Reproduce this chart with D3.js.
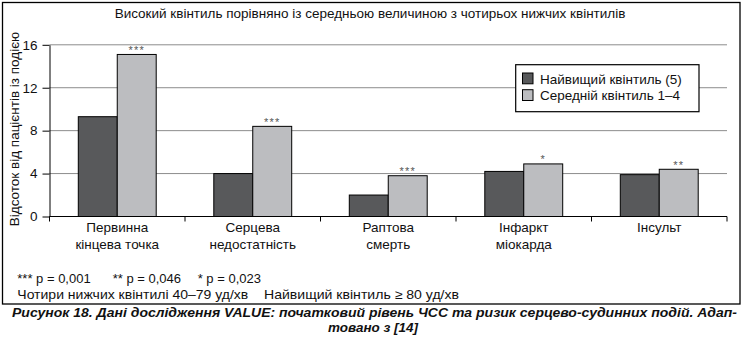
<!DOCTYPE html>
<html><head><meta charset="utf-8">
<script src="https://cdn.jsdelivr.net/npm/d3@7"></script>
<style>
html,body{margin:0;padding:0;background:#fff;}
svg{display:block;font-family:"Liberation Sans",Arial,Helvetica,sans-serif;}
</style></head>
<body>
<svg id="chart" width="746" height="338"></svg>
<script>
const categories = [["Первинна","кінцева точка"],["Серцева","недостатність"],["Раптова","смерть"],["Інфаркт","міокарда"],["Інсульт"]];
const seriesNames = ["Найвищий квінтиль (5)", "Середній квінтиль 1–4"];
const highQuintile = [9.3, 4.0, 2.0, 4.2, 3.9];
const meanQuintile = [15.1, 8.4, 3.8, 4.9, 4.4];
const significance = ["***", "***", "***", "*", "**"];
const yTicks = [0, 4, 8, 12, 16];
const titleText = "Високий квінтиль порівняно із середньою величиною з чотирьох нижчих квінтилів";
const yLabel = "Відсоток від пацієнтів із подією";
const pNotes = ["*** p = 0,001", "** p = 0,046", "* p = 0,023"];
const rangeNotes = ["Чотири нижчих квінтилі 40–79 уд/хв", "Найвищий квінтиль ≥ 80 уд/хв"];
const captionLines = ["Рисунок 18. Дані дослідження VALUE: початковий рівень ЧСС та ризик серцево-судинних подій. Адап-", "товано з [14]"];

const colors = ["#58595b", "#bcbdc0"];
const svg = d3.select("#chart");

// outer frame
svg.append("rect").attr("x",2.5).attr("y",2.5).attr("width",737.5).attr("height",301.5)
  .attr("fill","none").attr("stroke","#000").attr("stroke-width",1.3);

const L = 49.5, R = 727, T = 44.8, B = 216.5;
const x0 = d3.scaleBand().domain(d3.range(categories.length)).range([L, R]).paddingInner(0.425).paddingOuter(0.2125);
const x1 = d3.scaleBand().domain([0,1]).range([0, x0.bandwidth()]);
const y = d3.scaleLinear().domain([0,16]).range([B, T]);

// gridlines
svg.append("g").selectAll("line").data(yTicks.filter(d=>d>0)).join("line")
  .attr("x1", L).attr("x2", R).attr("y1", d=>y(d)).attr("y2", d=>y(d))
  .attr("stroke","#8c8c8c").attr("stroke-width",1);

// title
svg.append("text").attr("x",370).attr("y",18.3).attr("text-anchor","middle")
  .attr("font-size",13.5).attr("fill","#111").text(titleText);

// y axis
const yAxis = svg.append("g").attr("transform",`translate(${L},0)`)
  .call(d3.axisLeft(y).tickValues(yTicks).tickSize(7).tickPadding(5).tickSizeOuter(0));
yAxis.select(".domain").attr("stroke","#000");
yAxis.selectAll(".tick line").attr("stroke","#000");
yAxis.selectAll("text").attr("font-size",13.5).attr("font-family","Liberation Sans, Arial").attr("fill","#111");
svg.append("line").attr("x1",L).attr("x2",L).attr("y1",B).attr("y2",B+4).attr("stroke","#000");

// y label
svg.append("text").attr("transform",`translate(18.5,${129}) rotate(-90)`).attr("text-anchor","middle")
  .attr("font-size",13.5).attr("fill","#111").text(yLabel);

// bars
const groups = svg.append("g").selectAll("g").data(categories.map((c,i)=>i)).join("g")
  .attr("transform", i=>`translate(${x0(i)},0)`);
groups.selectAll("rect").data(i=>[highQuintile[i], meanQuintile[i]]).join("rect")
  .attr("x",(d,j)=>x1(j)).attr("width",x1.bandwidth())
  .attr("y",d=>y(d)).attr("height",d=>B-y(d))
  .attr("fill",(d,j)=>colors[j]).attr("stroke","#000").attr("stroke-width",1);
groups.append("text")
  .attr("x",x1(1)+x1.bandwidth()/2).attr("y",i=>y(meanQuintile[i])-0.5)
  .attr("text-anchor","middle").attr("font-size",11).attr("letter-spacing",1.2)
  .attr("fill","#555").text(i=>significance[i]);

// x axis
const xAxisLine = svg.append("g");
xAxisLine.append("line").attr("x1",L).attr("x2",R).attr("y1",B).attr("y2",B).attr("stroke","#000").attr("stroke-width",1);
const bounds = d3.range(categories.length+1).map(i => L + i*(R-L)/categories.length);
xAxisLine.selectAll("line.tk").data(bounds).join("line").attr("class","tk")
  .attr("x1",d=>d).attr("x2",d=>d).attr("y1",B).attr("y2",B+5).attr("stroke","#000");

// category labels
const labs = svg.append("g").selectAll("text").data(categories.map((c,i)=>i)).join("text")
  .attr("text-anchor","middle").attr("font-size",13.5).attr("fill","#111");
labs.selectAll("tspan").data(i=>categories[i].map(t=>({t, i}))).join("tspan")
  .attr("x",d=>x0(d.i)+x0.bandwidth()/2).attr("y",(d,k)=>232.3+k*16.5).text(d=>d.t);

// legend
const lg = svg.append("g");
lg.append("rect").attr("x",515.7).attr("y",64.7).attr("width",183.3).attr("height",47)
  .attr("fill","#fff").attr("stroke","#000").attr("stroke-width",1.2);
seriesNames.forEach((s,j)=>{
  lg.append("rect").attr("x",522.5).attr("y",73+j*16.7).attr("width",10.5).attr("height",10.8)
    .attr("fill",colors[j]).attr("stroke","#000").attr("stroke-width",1);
  lg.append("text").attr("x",540).attr("y",84.3+j*15.5).attr("font-size",13.5).attr("fill","#111").text(s);
});

// footnotes
const pX = [17.3, 112.7, 197.7];
svg.append("g").selectAll("text").data(pNotes).join("text")
  .attr("x",(d,i)=>pX[i]).attr("y",282.7).attr("font-size",13).attr("fill","#111").text(d=>d);
const rX = [17.3, 264];
const rW = [231, 195];
svg.append("g").selectAll("text").data(rangeNotes).join("text")
  .attr("x",(d,i)=>rX[i]).attr("y",298.7).attr("font-size",13).attr("fill","#111")
  .attr("textLength",(d,i)=>rW[i]).attr("lengthAdjust","spacingAndGlyphs").text(d=>d);

// caption
svg.append("text").attr("x",374.5).attr("y",317.3).attr("text-anchor","middle")
  .attr("font-size",12.4).attr("font-weight","bold").attr("font-style","italic").attr("fill","#111")
  .attr("textLength",725).attr("lengthAdjust","spacingAndGlyphs").text(captionLines[0]);
svg.append("text").attr("x",373).attr("y",331.8).attr("text-anchor","middle")
  .attr("font-size",12.4).attr("font-weight","bold").attr("font-style","italic").attr("fill","#111")
  .attr("textLength",90).attr("lengthAdjust","spacingAndGlyphs").text(captionLines[1]);
</script>
</body></html>
